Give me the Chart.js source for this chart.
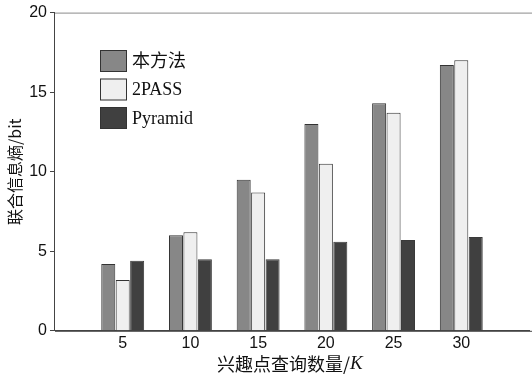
<!DOCTYPE html>
<html><head><meta charset="utf-8">
<script src="https://cdn.jsdelivr.net/npm/chart.js@4/dist/chart.umd.min.js"></script>
<style>html,body{margin:0;padding:0;background:#fff}#wrap{width:532px;height:375px}</style>
</head><body><div id="wrap"><canvas id="c" width="532" height="375"></canvas></div>
<script>
const categories = ['5','10','15','20','25','30'];
const seriesNames = ['本方法','2PASS','Pyramid'];
const benfangfa = [4.2, 6.0, 9.5, 13.0, 14.3, 16.7];
const twoPass = [3.2, 6.2, 8.7, 10.5, 13.7, 17.0];
const pyramid = [4.4, 4.5, 4.5, 5.6, 5.7, 5.9];
const yTicks = [0, 5, 10, 15, 20];

const labels = ['', ...categories, ''];
const pad = arr => [null, ...arr, null];
const fills = ['#878787', '#efefef', '#404040'];
const borders = ['#333333', '#333333', '#3a3a3a'];

const legendPlugin = {
  id: 'insideLegend',
  afterDraw(chart) {
    const ctx = chart.ctx;
    const a = chart.chartArea;
    ctx.save();
    ctx.strokeStyle = '#8a8a8a'; ctx.lineWidth = 1;
    ctx.beginPath(); ctx.moveTo(a.left, a.top + 0.5); ctx.lineTo(532, a.top + 0.5); ctx.stroke();
    ctx.strokeStyle = '#444';
    ctx.beginPath(); ctx.moveTo(a.left, a.bottom + 0.5); ctx.lineTo(532, a.bottom + 0.5); ctx.stroke();
    const x0 = 100, y0 = 50, bw = 27, bh = 22, gap = 28.5;
    chart.data.datasets.forEach((ds, i) => {
      const y = y0 + i * gap;
      ctx.fillStyle = ds.backgroundColor;
      ctx.fillRect(x0, y, bw, bh);
      ctx.strokeStyle = '#333'; ctx.lineWidth = 1;
      ctx.strokeRect(x0 + 0.5, y + 0.5, bw - 1, bh - 1);
      ctx.fillStyle = '#111';
      ctx.font = '18px "Liberation Serif", "Noto Sans CJK SC", serif';
      ctx.textBaseline = 'middle'; ctx.textAlign = 'left';
      ctx.fillText(ds.label, x0 + bw + 5, y + bh / 2 + 1);
    });
    const t1 = '兴趣点查询数量/';
    ctx.font = '18px "Noto Sans CJK SC", sans-serif';
    const w1 = ctx.measureText(t1).width;
    const sx = 217;
    ctx.textBaseline = 'middle'; ctx.textAlign = 'left'; ctx.fillStyle = '#111';
    ctx.fillText(t1, sx, 364);
    ctx.font = 'italic 19px "Liberation Serif", serif';
    ctx.fillText('K', sx + w1, 364);
    ctx.restore();
  }
};

new Chart(document.getElementById('c'), {
  type: 'bar',
  data: {
    labels: labels,
    datasets: [benfangfa, twoPass, pyramid].map((d, i) => ({
      label: seriesNames[i],
      data: pad(d),
      backgroundColor: fills[i],
      borderColor: borders[i],
      borderWidth: 1,
      categoryPercentage: 0.64,
      barPercentage: 0.97
    }))
  },
  options: {
    responsive: false,
    animation: false,
    layout: { padding: { top: 6, right: -6, bottom: 19, left: 5 } },
    plugins: { legend: { display: false }, tooltip: { enabled: false } },
    scales: {
      x: {
        offset: false,
        grid: { display: false, drawTicks: false },
        border: { color: '#444', width: 1 },
        ticks: { color: '#111', font: { family: '"Liberation Sans", Arial, sans-serif', size: 16 }, padding: 3, maxRotation: 0, autoSkip: false }
      },
      y: {
        min: 0, max: 20,
        afterBuildTicks: s => { s.ticks = yTicks.map(v => ({ value: v })); },
        grid: { drawOnChartArea: false, drawTicks: true, tickLength: 5, color: '#444' },
        border: { color: '#444', width: 1 },
        ticks: { color: '#111', font: { family: '"Liberation Sans", Arial, sans-serif', size: 16 }, padding: 3 },
        title: { display: true, text: '联合信息熵/bit', color: '#111', font: { family: '"Noto Sans CJK SC", sans-serif', size: 16 }, padding: { top: 0, bottom: 2 } }
      }
    }
  },
  plugins: [legendPlugin]
});
</script></body></html>
